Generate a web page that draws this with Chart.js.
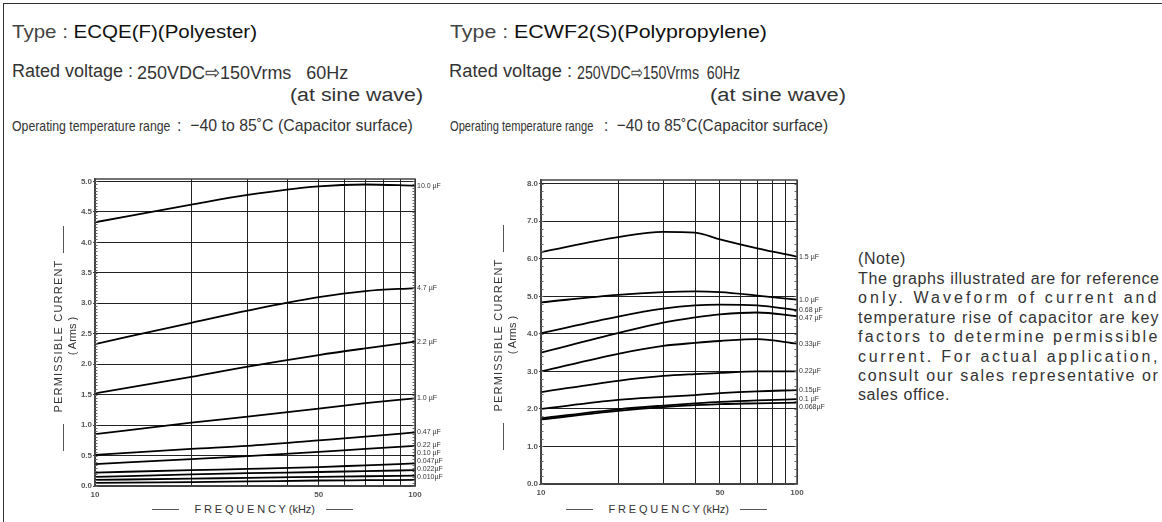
<!DOCTYPE html>
<html>
<head>
<meta charset="utf-8">
<script src="https://cdn.jsdelivr.net/npm/chart.js@4.4.0/dist/chart.umd.min.js"></script>
<style>
  body { margin: 0; background: #fff; width: 1162px; height: 522px; overflow: hidden; position: relative; font-family: "Liberation Sans", Arial, sans-serif; color: #222; }
  .abs { position: absolute; white-space: nowrap; }
  .lt { color: #444; }
  .nm { color: #111; }
  .ytitle { position: absolute; transform: rotate(-90deg); transform-origin: center; text-align: center; font-size: 11px; line-height: 14px; color: #333; white-space: nowrap; }
  .xtitle { position: absolute; font-size: 11px; color: #333; white-space: nowrap; }
  .dash { position: absolute; background: #555; }
  canvas { position: absolute; }
</style>
</head>
<body>
<div class="abs" style="left:3px;top:3px;width:1159px;height:1px;background:#333"></div>
<div class="abs" style="left:3px;top:3px;width:1px;height:519px;background:#333"></div>

<canvas id="chartL" width="410" height="330" style="left:55px;top:170px"></canvas>
<canvas id="chartR" width="346" height="328" style="left:501px;top:170px"></canvas>

<script>
// frequency points (kHz) where the curves were read
const freqL = [10, 20, 30, 50, 70, 100];
const freqR = [10, 20, 30, 40, 50, 70, 100];
const gridFreqs = [10, 20, 30, 40, 50, 60, 70, 80, 90, 100];
const freqLabels = [10, 50, 100];

// ECQE(F) polyester
const capL = ['10.0 µF', '4.7 µF', '2.2 µF', '1.0 µF', '0.47 µF', '0.22 µF', '0.10 µF', '0.047µF', '0.022µF', '0.010µF'];
const ecqe100 = [4.33, 4.62, 4.78, 4.92, 4.95, 4.93];
const ecqe47 = [2.33, 2.68, 2.88, 3.10, 3.20, 3.25];
const ecqe22 = [1.52, 1.79, 1.96, 2.15, 2.26, 2.37];
const ecqe10 = [0.85, 1.04, 1.14, 1.27, 1.36, 1.44];
const ecqe047 = [0.51, 0.61, 0.66, 0.75, 0.81, 0.88];
const ecqe022 = [0.36, 0.44, 0.49, 0.56, 0.61, 0.66];
const ecqe010 = [0.22, 0.26, 0.28, 0.31, 0.34, 0.37];
const ecqe0047 = [0.15, 0.19, 0.21, 0.23, 0.245, 0.26];
const ecqe0022 = [0.10, 0.12, 0.135, 0.15, 0.16, 0.17];
const ecqe0010 = [0.05, 0.065, 0.075, 0.09, 0.095, 0.10];

// ECWF2(S) polypropylene
const capR = ['1.5 µF', '1.0 µF', '0.68 µF', '0.47 µF', '0.33µF', '0.22µF', '0.15µF', '0.1 µF', '0.068µF'];
const ecwf15 = [6.18, 6.58, 6.72, 6.70, 6.52, 6.28, 6.06];
const ecwf10 = [4.84, 5.04, 5.11, 5.13, 5.11, 5.02, 4.91];
const ecwf068 = [4.02, 4.46, 4.67, 4.76, 4.78, 4.76, 4.63];
const ecwf047 = [3.50, 4.02, 4.30, 4.44, 4.52, 4.57, 4.47];
const ecwf033 = [3.00, 3.47, 3.68, 3.76, 3.81, 3.86, 3.74];
const ecwf022 = [2.45, 2.75, 2.88, 2.93, 2.96, 3.00, 3.00];
const ecwf015 = [2.00, 2.24, 2.32, 2.37, 2.42, 2.47, 2.50];
const ecwf01 = [1.75, 1.99, 2.09, 2.15, 2.19, 2.23, 2.26];
const ecwf0068 = [1.72, 1.95, 2.05, 2.10, 2.13, 2.15, 2.17];

const seriesL = [ecqe100, ecqe47, ecqe22, ecqe10, ecqe047, ecqe022, ecqe010, ecqe0047, ecqe0022, ecqe0010];
const seriesR = [ecwf15, ecwf10, ecwf068, ecwf047, ecwf033, ecwf022, ecwf015, ecwf01, ecwf0068];

const noteLines = [
  'The graphs illustrated are for reference',
  'only. Waveform of current and',
  'temperature rise of capacitor are key',
  'factors to determine permissible',
  'current. For actual application,',
  'consult our sales representative or'
];

// labels at the right end of every curve, pushed apart so they don't overlap
const curveLabels = {
  id: 'curveLabels',
  afterDatasetsDraw(chart, args, opts) {
    const ctx = chart.ctx, area = chart.chartArea
    let items = chart.data.datasets.map((ds, i) => {
      const pts = chart.getDatasetMeta(i).data
      return { text: ds.label, y: pts[pts.length - 1].y }
    }).sort((a, b) => a.y - b.y)
    for (let i = 1; i < items.length; i++) items[i].y = Math.max(items[i].y, items[i - 1].y + opts.gap)
    const n = items.length
    items[n - 1].y = Math.min(items[n - 1].y, area.bottom - opts.bottomRoom)
    for (let i = n - 2; i >= 0; i--) items[i].y = Math.min(items[i].y, items[i + 1].y - opts.gap)
    ctx.save()
    ctx.font = '7px "Liberation Sans", Arial, sans-serif'
    ctx.fillStyle = '#333'
    ctx.textBaseline = 'middle'
    items.forEach(it => ctx.fillText(it.text, area.right + opts.offset, it.y))
    ctx.restore()
  }
}

// frame round the plot and the small inner ticks on both sides
const frame = {
  id: 'frame',
  afterDraw(chart, args, opts) {
    const ctx = chart.ctx, a = chart.chartArea, y = chart.scales.y
    ctx.save()
    ctx.strokeStyle = '#444'
    ctx.lineWidth = 1.5
    ctx.strokeRect(a.left, a.top, a.right - a.left, a.bottom - a.top)
    ctx.lineWidth = 1
    ctx.strokeStyle = '#666'
    for (let v = 0; v <= y.max + 1e-9; v += opts.minor) {
      const py = Math.round(y.getPixelForValue(v)) + 0.5
      ctx.beginPath()
      ctx.moveTo(a.left, py); ctx.lineTo(a.left + 2.5, py)
      ctx.moveTo(a.right, py); ctx.lineTo(a.right - 2.5, py)
      ctx.stroke()
    }
    ctx.restore()
  }
}

function makeChart(id, freqs, series, names, yMax, yStep, minor, padTop) {
  return new Chart(document.getElementById(id), {
    type: 'line',
    data: {
      datasets: series.map((vals, i) => ({
        label: names[i],
        data: vals.map((v, j) => ({ x: freqs[j], y: v })),
        borderColor: '#000',
        borderWidth: 1.8,
        pointRadius: 0,
        cubicInterpolationMode: 'monotone'
      }))
    },
    options: {
      responsive: false,
      animation: false,
      layout: { padding: { top: padTop, right: 50, left: 0, bottom: 0 } },
      plugins: {
        legend: { display: false },
        tooltip: { enabled: false },
        curveLabels: { gap: 8, bottomRoom: 9, offset: 2 },
        frame: { minor: minor }
      },
      scales: {
        x: {
          type: 'logarithmic',
          min: 10, max: 100,
          afterBuildTicks: s => { s.ticks = gridFreqs.map(v => ({ value: v })) },
          afterFit: s => { s.height = 14 },
          grid: { color: '#222', lineWidth: 1, drawTicks: false },
          border: { color: '#444', width: 1.5 },
          ticks: {
            autoSkip: false, maxRotation: 0, padding: 4,
            font: { size: 8, weight: 'bold', family: '"Liberation Sans", Arial' }, color: '#555',
            callback: v => freqLabels.includes(v) ? String(v) : ''
          }
        },
        y: {
          min: 0, max: yMax,
          afterFit: s => { s.width = 40 },
          grid: { color: '#222', lineWidth: 1, tickLength: 2, tickColor: '#444' },
          border: { color: '#444', width: 1.5 },
          ticks: {
            stepSize: yStep, includeBounds: false, padding: 1,
            font: { size: 8, weight: 'bold', family: '"Liberation Sans", Arial' }, color: '#555',
            callback: v => v.toFixed(1)
          }
        }
      }
    },
    plugins: [curveLabels, frame]
  })
}

makeChart('chartL', freqL, seriesL, capL, 5.04, 0.5, 0.05, 9)
makeChart('chartR', freqR, seriesR, capR, 8.1, 1, 0.2, 10)

// header text, each piece squeezed to the width it takes in the original
function fitText(html, left, right, cy, size, color) {
  const d = document.createElement('div')
  d.className = 'abs'
  d.style.fontSize = size + 'px'
  d.style.lineHeight = '1'
  d.style.color = color || '#333'
  d.innerHTML = html
  document.body.appendChild(d)
  const w = d.offsetWidth, h = d.offsetHeight
  d.style.left = left + 'px'
  d.style.top = (cy - h / 2) + 'px'
  d.style.transformOrigin = '0 50%'
  d.style.transform = 'scaleX(' + ((right - left) / w) + ')'
}

fitText('<span class="lt">Type : </span><span class="nm">ECQE(F)(Polyester)</span>', 12, 257, 31, 19)
fitText('Rated voltage :', 12, 133, 71, 18)
fitText('250VDC⇨150Vrms&nbsp;&nbsp;&nbsp;60Hz', 137, 348, 72, 19)
fitText('(at sine wave)', 290, 423, 95, 18)
fitText('Operating temperature range', 12, 170, 125, 15)
fitText(':&nbsp;&nbsp;−40 to 85˚C (Capacitor surface)', 177, 413, 125, 17)

fitText('<span class="lt">Type : </span><span class="nm">ECWF2(S)(Polypropylene)</span>', 450, 767, 31, 19)
fitText('Rated voltage :', 449, 572, 71, 18)
fitText('250VDC⇨150Vrms&nbsp;&nbsp;60Hz', 577, 740, 72, 19)
fitText('(at sine wave)', 710, 846, 95, 18)
fitText('Operating temperature range', 450, 593, 125, 15)
fitText(':&nbsp;&nbsp;−40 to 85˚C(Capacitor surface)', 604, 828, 125, 17)

// note block: letters spread to fill the column, like the original
function noteLine(text, cy, spread) {
  const d = document.createElement('div')
  d.className = 'abs'
  d.style.fontSize = '16px'
  d.style.lineHeight = '1'
  d.style.color = '#333'
  d.textContent = text
  document.body.appendChild(d)
  const w = d.offsetWidth
  d.style.letterSpacing = spread ? ((302 - w) / text.length) + 'px' : '0.6px'
  d.style.left = '858px'
  d.style.top = (cy - d.offsetHeight / 2) + 'px'
}
noteLine('(Note)', 259, false)
noteLines.forEach((t, i) => noteLine(t, 279 + i * 19.4, true))
noteLine('sales office.', 279 + noteLines.length * 19.4, false)

// axis titles as plain text round the plots
function yTitle(cx, cy) {
  const d = document.createElement('div')
  d.className = 'ytitle'
  d.innerHTML = '<span style="letter-spacing:1.2px">PERMISSIBLE CURRENT</span><br>( Arms )'
  document.body.appendChild(d)
  d.style.left = (cx - d.offsetWidth / 2) + 'px'
  d.style.top = (cy - d.offsetHeight / 2) + 'px'
  for (const y0 of [cy - 110, cy + 88]) {
    const l = document.createElement('div')
    l.className = 'dash'
    l.style.left = (cx - 1) + 'px'; l.style.top = y0 + 'px'
    l.style.width = '1.2px'; l.style.height = '27px'
    document.body.appendChild(l)
  }
}
function xTitle(cx, cy) {
  const d = document.createElement('div')
  d.className = 'xtitle'
  d.innerHTML = '<span style="letter-spacing:2.8px">FREQUENCY</span>(kHz)'
  document.body.appendChild(d)
  d.style.left = (cx - d.offsetWidth / 2) + 'px'
  d.style.top = (cy - d.offsetHeight / 2) + 'px'
  for (const x0 of [cx - 103, cx + 71]) {
    const l = document.createElement('div')
    l.className = 'dash'
    l.style.left = x0 + 'px'; l.style.top = cy + 'px'
    l.style.width = '27px'; l.style.height = '1.2px'
    document.body.appendChild(l)
  }
}
yTitle(64, 336)
yTitle(504, 335)
xTitle(255, 509)
xTitle(669, 509)
</script>
</body>
</html>
